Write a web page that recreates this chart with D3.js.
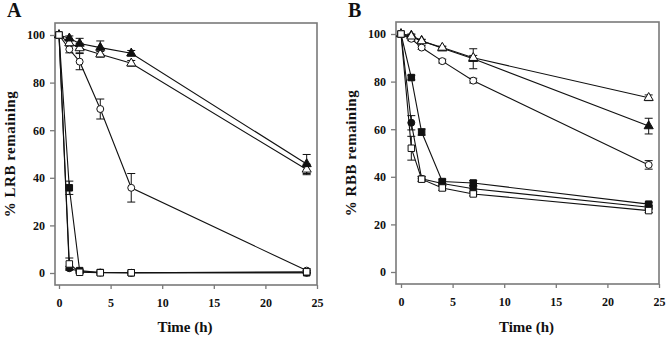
<!DOCTYPE html>
<html>
<head>
<meta charset="utf-8">
<script src="https://cdn.jsdelivr.net/npm/d3@7"></script>
<style>
  body { margin: 0; background: #fff; }
  svg text { font-family: "Liberation Serif", "Times New Roman", serif; font-weight: bold; fill: #111; }
</style>
</head>
<body>
<div id="chart"></div>
<script>
// sampling times (h)
const times = [0, 1, 2, 4, 7, 24];
const xTicks = [0, 5, 10, 15, 20, 25];
const yTicks = [0, 20, 40, 60, 80, 100];

// panel A: % LRB remaining
const aFilledCircle = [100, 2, 0.6, 0.2, 0.1, 0.1];
const aFilledCircleErr = [0, 0.8, 0.5, 0, 0, 0];
const aOpenCircle = [100, 94, 88.8, 68.9, 35.8, 1];
const aOpenCircleErr = [0, 1.5, 3.4, 4.2, 6, 0.8];
const aFilledTri = [100, 98.6, 96.4, 94.7, 92.3, 45.8];
const aFilledTriErr = [0, 1, 2.2, 2.8, 1.2, 4];
const aOpenTri = [100, 96.6, 94.5, 91.9, 88.1, 43.5];
const aOpenTriErr = [0, 1.2, 2, 1.2, 1.2, 2.2];
const aFilledSq = [100, 35.8, 1, 0.2, 0.1, 0.1];
const aFilledSqErr = [0, 2.8, 0.6, 0, 0, 0];
const aOpenSq = [100, 3.8, 0.3, 0.1, 0.1, 0.5];
const aOpenSqErr = [0, 2.5, 0.4, 0, 0, 0.6];

// panel B: % RBB remaining
const bOpenTri = [100, 99, 97, 94.3, 90, 73.2];
const bOpenTriErr = [0, 0.6, 0.6, 0.6, 1, 1.2];
const bFilledTri = [100, 99.4, 97.2, 94, 89.6, 61.3];
const bFilledTriErr = [0, 0.6, 0.6, 0.6, 4.2, 3.3];
const bOpenCircle = [100, 98, 94.3, 88.6, 80.4, 45];
const bOpenCircleErr = [0, 0.8, 0.8, 0.8, 1, 1.8];
const bFilledSq = [100, 81.7, 58.8, 38, 37.4, 28.5];
const bFilledSqErr = [0, 1, 1.3, 1, 1, 0.8];
const bFilledCircle = [100, 62.7, 39.2, 37.2, 35, 27.2];
const bFilledCircleErr = [0, 3, 1, 1, 1, 0.8];
const bOpenSq = [100, 52, 39, 35.3, 32.8, 25.8];
const bOpenSqErr = [0, 5, 1, 1, 0.8, 0.8];

const panels = [
  {
    label: 'A', yTitle: '% LRB remaining', left: 59, right: 317, top: 35, bottom: 273, frameTop: 23, frameBottom: 285, frameLeft: 55,
    series: [
      { v: aFilledSq, e: aFilledSqErr, shape: 'square', filled: true },
      { v: aFilledCircle, e: aFilledCircleErr, shape: 'circle', filled: true },
      { v: aOpenCircle, e: aOpenCircleErr, shape: 'circle', filled: false },
      { v: aOpenTri, e: aOpenTriErr, shape: 'triangle', filled: false },
      { v: aFilledTri, e: aFilledTriErr, shape: 'triangle', filled: true },
      { v: aOpenSq, e: aOpenSqErr, shape: 'square', filled: false }
    ]
  },
  {
    label: 'B', yTitle: '% RBB remaining', left: 401, right: 659, top: 34, bottom: 272, frameTop: 22, frameBottom: 284, frameLeft: 396,
    series: [
      { v: bFilledCircle, e: bFilledCircleErr, shape: 'circle', filled: true },
      { v: bFilledSq, e: bFilledSqErr, shape: 'square', filled: true },
      { v: bOpenCircle, e: bOpenCircleErr, shape: 'circle', filled: false },
      { v: bFilledTri, e: bFilledTriErr, shape: 'triangle', filled: true },
      { v: bOpenTri, e: bOpenTriErr, shape: 'triangle', filled: false },
      { v: bOpenSq, e: bOpenSqErr, shape: 'square', filled: false }
    ]
  }
];

const serif = '"Liberation Serif", "Times New Roman", serif';

const svg = d3.select('#chart').append('svg')
  .attr('width', 666)
  .attr('height', 337);

const symbols = {
  square: d3.symbol().type(d3.symbolSquare).size(42),
  circle: d3.symbol().type(d3.symbolCircle).size(38),
  triangle: d3.symbol().type(d3.symbolTriangle).size(36)
};

const frameColor = '#7a7a7a';

panels.forEach(p => {
  const x = d3.scaleLinear().domain([0, 25]).range([p.left, p.right]);
  const y = d3.scaleLinear().domain([0, 100]).range([p.bottom, p.top]);
  const g = svg.append('g');

  // frame
  g.append('rect')
    .attr('x', p.frameLeft)
    .attr('y', p.frameTop)
    .attr('width', x(25) - p.frameLeft)
    .attr('height', p.frameBottom - p.frameTop)
    .attr('fill', 'none')
    .attr('stroke', frameColor)
    .attr('stroke-width', 1.6);

  // y axis
  const yAxis = g.append('g')
    .attr('transform', `translate(${p.frameLeft},0)`)
    .call(d3.axisLeft(y).tickValues(yTicks).tickSize(5).tickPadding(5));
  yAxis.attr('font-family', serif).attr('font-size', 12);
  yAxis.select('.domain').remove();
  yAxis.selectAll('line').attr('stroke', frameColor).attr('stroke-width', 1.3);
  yAxis.selectAll('text').attr('font-family', serif).attr('font-weight', 'bold').attr('fill', '#111');

  // x axis
  const xAxis = g.append('g')
    .attr('transform', `translate(0,${p.frameBottom})`)
    .call(d3.axisBottom(x).tickValues(xTicks).tickSize(4).tickPadding(9));
  xAxis.attr('font-family', serif).attr('font-size', 12);
  xAxis.select('.domain').remove();
  xAxis.selectAll('line').attr('stroke', frameColor).attr('stroke-width', 1.3);
  xAxis.selectAll('text').attr('font-family', serif).attr('font-weight', 'bold').attr('fill', '#111');

  // titles
  g.append('text')
    .attr('x', (p.frameLeft + x(25)) / 2 - 1)
    .attr('y', 332)
    .attr('text-anchor', 'middle')
    .style('font-size', '15px')
    .text('Time (h)');

  g.append('text')
    .attr('transform', `translate(${p.frameLeft - 40},${(p.frameTop + p.frameBottom) / 2}) rotate(-90)`)
    .attr('text-anchor', 'middle')
    .style('font-size', '15px')
    .style('letter-spacing', '0.5px')
    .text(p.yTitle);

  g.append('text')
    .attr('x', p.frameLeft - 48)
    .attr('y', 17)
    .style('font-size', '20px')
    .text(p.label);

  const line = d3.line().x((d, i) => x(times[i])).y(d => y(d));

  p.series.forEach(s => {
    g.append('path')
      .attr('d', line(s.v))
      .attr('fill', 'none')
      .attr('stroke', '#111')
      .attr('stroke-width', 1.1);
  });

  p.series.forEach(s => {
    const eg = g.append('g').attr('stroke', '#111').attr('stroke-width', 1);
    s.v.forEach((v, i) => {
      if (!s.e[i]) return;
      const cx = x(times[i]);
      eg.append('line').attr('x1', cx).attr('x2', cx).attr('y1', y(v - s.e[i])).attr('y2', y(v + s.e[i]));
      [v - s.e[i], v + s.e[i]].forEach(w => {
        eg.append('line').attr('x1', cx - 4).attr('x2', cx + 4).attr('y1', y(w)).attr('y2', y(w));
      });
    });
  });

  p.series.forEach(s => {
    g.append('g').selectAll('path')
      .data(s.v)
      .enter().append('path')
      .attr('d', symbols[s.shape])
      .attr('transform', (d, i) => `translate(${x(times[i])},${y(d)})`)
      .attr('fill', s.filled ? '#111' : '#fff')
      .attr('stroke', '#111')
      .attr('stroke-width', 1);
  });
});
</script>
</body>
</html>
